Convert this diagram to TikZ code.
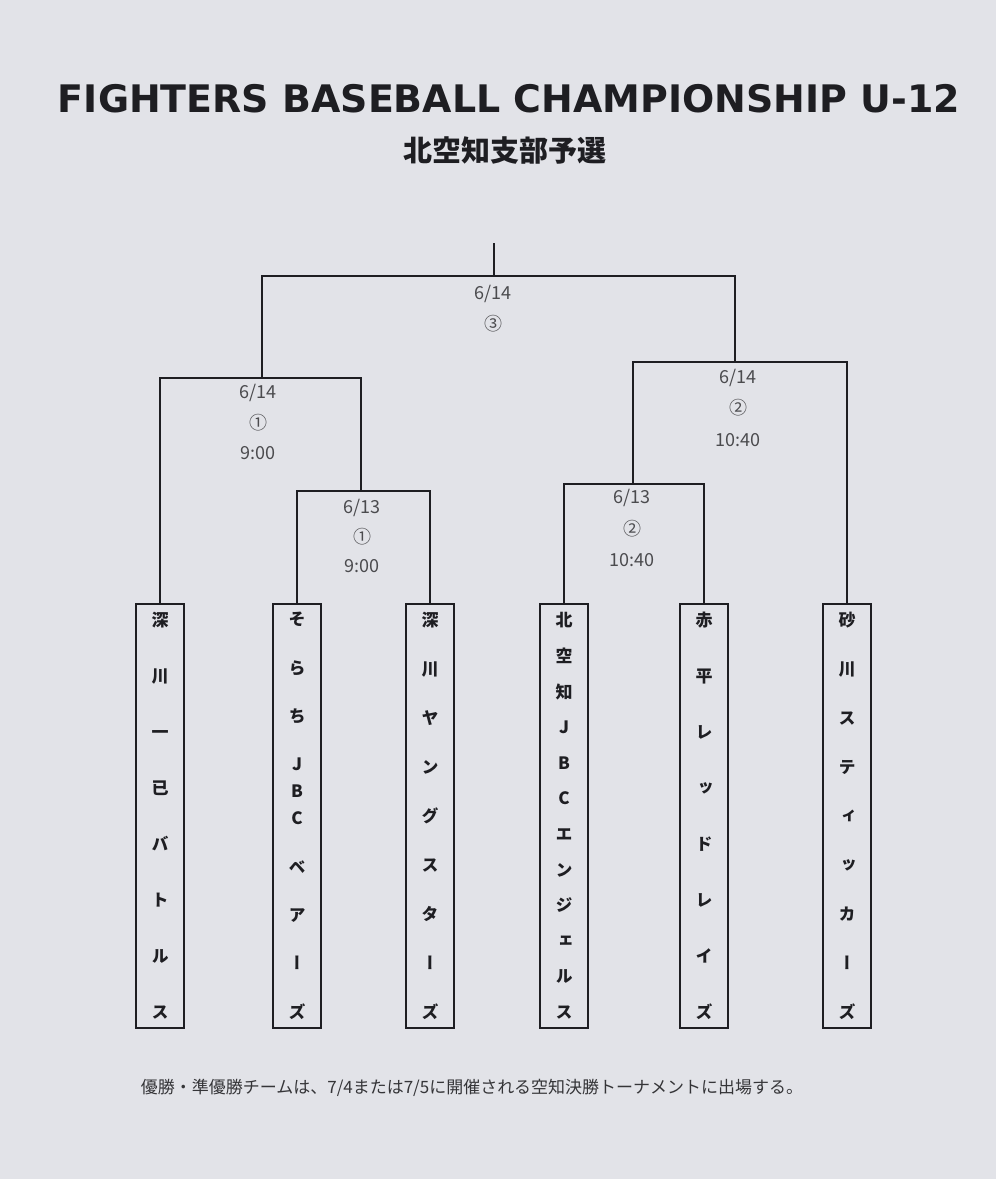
\documentclass[tikz,border=0pt]{standalone}
\usepackage{graphicx}
\usepackage{fontspec}
\setmainfont{Noto Sans CJK JP}
\newfontfamily\jp{Noto Sans CJK JP}
\newfontfamily\jpv{Noto Sans CJK JP}[RawFeature=+vert]
\newfontfamily\titlefont{DejaVu Sans}
\definecolor{paper}{HTML}{E2E3E8}
\definecolor{ink}{HTML}{1E1E22}
\newcommand\vv{\par\vfill}
\newcommand\teamcol[1]{\parbox[c][406pt][s]{40pt}{\centering #1\par}}
\begin{document}
\begin{tikzpicture}[x=1pt,y=-1pt,
  line/.style={draw=ink, line width=1.7pt},
  team/.style={draw=ink, line width=1.7pt, minimum width=48pt, minimum height=424pt,
    inner sep=0pt, anchor=north, font=\jpv\bfseries\fontsize{17}{19}\selectfont, text=ink},
  lbl/.style={font=\jp\fontsize{18}{20}\selectfont, text=ink!80, inner sep=0pt}]
\fill[paper] (0,0) rectangle (996,1179);
\useasboundingbox (0,0) rectangle (996,1179);

% titles
\node[text=ink] (title) at (509,99) {\resizebox{902pt}{!}{\titlefont\bfseries FIGHTERS BASEBALL CHAMPIONSHIP U-12}};
\node[text=ink] (sub) at (505,151) {\bfseries\fontsize{29}{32}\selectfont 北空知支部予選};

% teams
\node[team] (b1) at (160,603) {\teamcol{深\vv 川\vv 一\vv 已\vv バ\vv ト\vv ル\vv ス}};
\node[team] (b2) at (297,603) {\teamcol{そ\vv ら\vv ち\vv J\par\vspace{8pt}B\par\vspace{8pt}C\vv ベ\vv ア\vv ー\vv ズ}};
\node[team] (b3) at (430,603) {\teamcol{深\vv 川\vv ヤ\vv ン\vv グ\vv ス\vv タ\vv ー\vv ズ}};
\node[team] (b4) at (564,603) {\teamcol{北\vv 空\vv 知\vv J\vv B\vv C\vv エ\vv ン\vv ジ\vv ェ\vv ル\vv ス}};
\node[team] (b5) at (704,603) {\teamcol{赤\vv 平\vv レ\vv ッ\vv ド\vv レ\vv イ\vv ズ}};
\node[team] (b6) at (847,603) {\teamcol{砂\vv 川\vv ス\vv テ\vv ィ\vv ッ\vv カ\vv ー\vv ズ}};

% junctions
\coordinate (top) at (494,243);
\coordinate (f) at (494,276);
\coordinate (s1) at (262,378);
\coordinate (q1) at (361,491);
\coordinate (s2) at (735,362);
\coordinate (q2) at (633,484);

% bracket
\draw[line] (top) -- (f);
\draw[line] (s1) |- (f) -| (s2);
\draw[line] (b1.north) |- (s1) -| (q1);
\draw[line] (b2.north) |- (q1) -| (b3.north);
\draw[line] (q2) |- (s2) -| (b6.north);
\draw[line] (b4.north) |- (q2) -| (b5.north);

% match labels
\node[lbl] (fd) at (493,294) {6/14};
\node[lbl] (fn) at (493,324) {③};
\node[lbl] (s1d) at (258,393) {6/14};
\node[lbl] (s1n) at (258,423) {①};
\node[lbl] (s1t) at (258,453) {9:00};
\node[lbl] (q1d) at (362,508) {6/13};
\node[lbl] (q1n) at (362,537) {①};
\node[lbl] (q1t) at (362,566) {9:00};
\node[lbl] (s2d) at (738,378) {6/14};
\node[lbl] (s2n) at (738,408) {②};
\node[lbl] (s2t) at (738,440) {10:40};
\node[lbl] (q2d) at (632,498) {6/13};
\node[lbl] (q2n) at (632,529) {②};
\node[lbl] (q2t) at (632,560) {10:40};

% note
\node[text=ink!90] (note) at (472,1088) {\resizebox{662pt}{!}{\fontsize{16}{18}\selectfont 優勝・準優勝チームは、7/4または7/5に開催される空知決勝トーナメントに出場する。}};
\end{tikzpicture}
\end{document}
